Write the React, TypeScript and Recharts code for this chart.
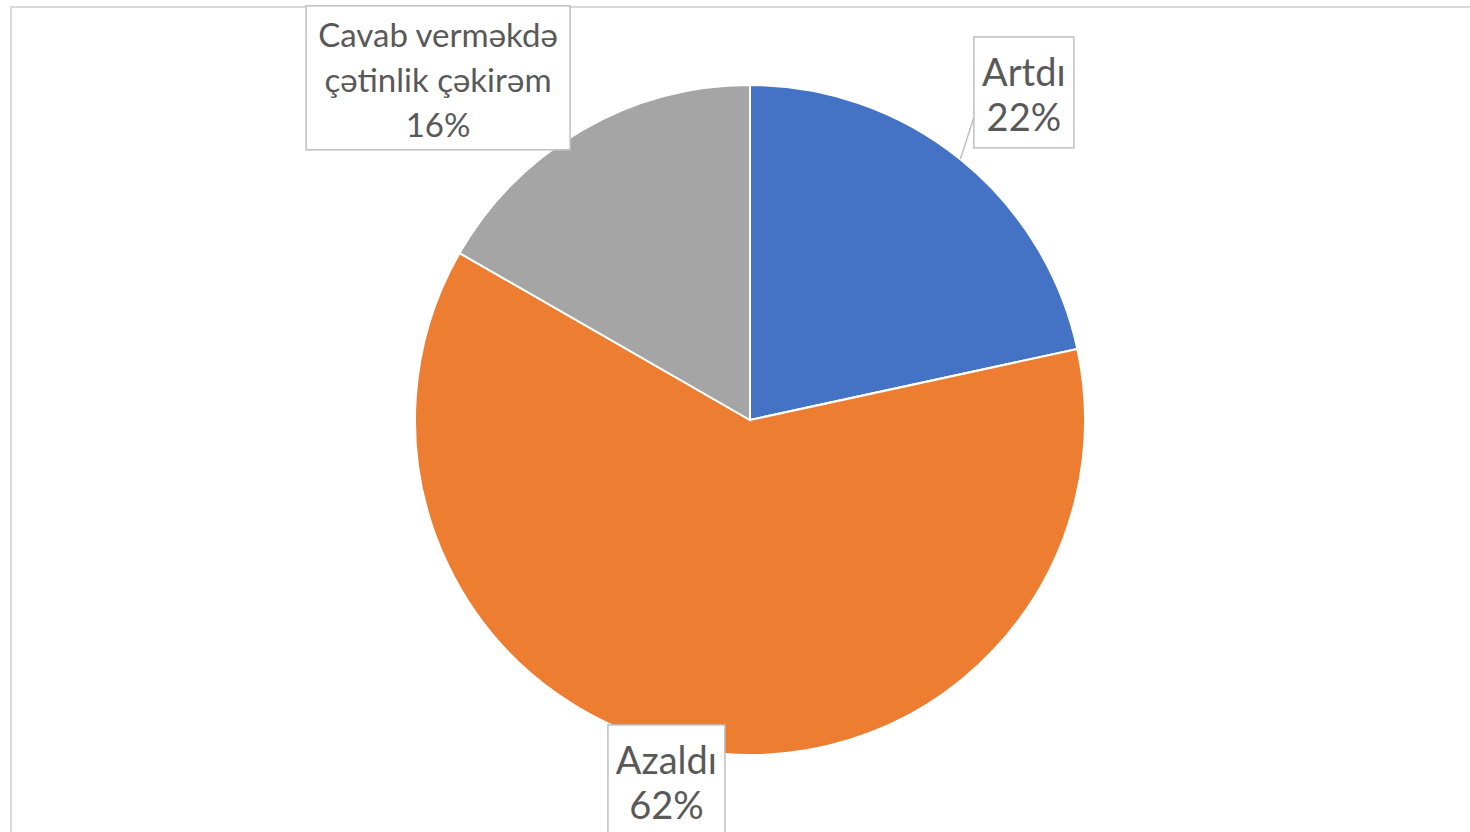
import React from "react";
import { PieChart, Pie, Cell } from "recharts";

// answers (line breaks as they appear in the label boxes)
const categories = ["Artdı", "Azaldı", "Cavab verməkdə\nçətinlik çəkirəm"];
// slice sizes
const values = [21.6, 61.7, 16.7];
// percentages printed in the label boxes
const shownPercents = ["22%", "62%", "16%"];
const colors = ["#4472C4", "#ED7D31", "#A5A5A5"];

const data = categories.map((name, i) => ({ name, value: values[i], shown: shownPercents[i] }));

// label box placement relative to the slice's outer edge point
const labelBoxes = [
  { dx: 63.6, dy: -66.8, w: 100, h: 111, fontSize: 38, leader: true },
  { dx: -32.2, dy: 29.4, w: 117, h: 111, fontSize: 38, leader: false },
  { dx: -144.1, dy: -52.2, w: 264, h: 144, fontSize: 33, leader: false },
];

const RAD = Math.PI / 180;
const LINE_GAP = 45;
const FONT = "Lato, 'Open Sans', sans-serif";

const renderLabel = (props: any) => {
  const { cx, cy, midAngle, outerRadius, index, name, payload } = props;
  const ex = cx + outerRadius * Math.cos(-midAngle * RAD);
  const ey = cy + outerRadius * Math.sin(-midAngle * RAD);
  const box = labelBoxes[index];
  const bx = ex + box.dx;
  const by = ey + box.dy;
  const lines = [...String(name).split("\n"), payload?.shown ?? shownPercents[index]];
  const firstBase = by - ((lines.length - 1) / 2) * LINE_GAP + box.fontSize * 0.42;

  return (
    <g key={`lbl-${index}`}>
      {box.leader && (
        <line x1={bx - box.w / 2} y1={by + 25} x2={ex} y2={ey} stroke="#BFBFBF" strokeWidth={1.5} />
      )}
      <rect
        x={bx - box.w / 2}
        y={by - box.h / 2}
        width={box.w}
        height={box.h}
        fill="#FFFFFF"
        stroke="#BFBFBF"
        strokeWidth={1.5}
      />
      <text textAnchor="middle" fill="#595959" fontSize={box.fontSize} fontFamily={FONT}>
        {lines.map((l, i) => (
          <tspan key={i} x={bx} y={firstBase + i * LINE_GAP}>
            {l}
          </tspan>
        ))}
      </text>
    </g>
  );
};

export default function App() {
  return (
    <div
      style={{
        position: "fixed",
        left: 0,
        top: 0,
        width: 1470,
        height: 832,
        background: "#FFFFFF",
        overflow: "hidden",
      }}
    >
      <div
        style={{
          position: "absolute",
          left: 10,
          top: 6,
          width: 1480,
          height: 860,
          border: "2px solid #D9D9D9",
          boxSizing: "border-box",
        }}
      />
      <div style={{ position: "absolute", left: 0, top: 0 }}>
        <PieChart width={1470} height={832} margin={{ top: 0, right: 0, bottom: 0, left: 0 }}>
          <Pie
            data={data}
            dataKey="value"
            nameKey="name"
            cx={750}
            cy={420}
            outerRadius={335}
            startAngle={90}
            endAngle={-270}
            stroke="#FFFFFF"
            strokeWidth={2}
            label={renderLabel}
            labelLine={false}
            isAnimationActive={false}
          >
            {data.map((d, i) => (
              <Cell key={d.name} fill={colors[i]} />
            ))}
          </Pie>
        </PieChart>
      </div>
    </div>
  );
}
